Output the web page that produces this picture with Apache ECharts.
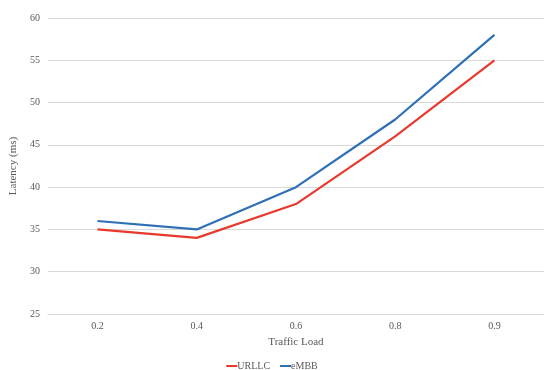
<!DOCTYPE html>
<html>
<head>
<meta charset="utf-8">
<script src="https://cdn.jsdelivr.net/npm/echarts@6/dist/echarts.min.js"></script>
<style>html,body{margin:0;padding:0;background:#fff;}#c{width:544px;height:370px;}</style>
</head>
<body>
<div id="c"></div>
<script>
const categories = ['0.2', '0.4', '0.6', '0.8', '0.9'];
const urllc = [35, 34, 38, 46, 55];
const embb = [36, 35, 40, 48, 58];
const yMin = 25, yMax = 60, yStep = 5;

const font = 'Liberation Serif';
const chart = echarts.init(document.getElementById('c'), null, {renderer: 'canvas'});
chart.setOption({
  animation: false,
  backgroundColor: '#ffffff',
  textStyle: {fontFamily: font},
  grid: {left: 43, top: 18, width: 503, height: 296, containLabel: false},
  legend: {
    top: 356,
    left: 'center',
    itemWidth: 11,
    itemHeight: 2,
    itemGap: 10,
    icon: 'rect',
    textStyle: {fontFamily: font, fontSize: 10, color: '#595959', padding: [0, 0, 0, -5]},
    data: ['URLLC', 'eMBB']
  },
  xAxis: {
    type: 'category',
    data: categories,
    boundaryGap: true,
    name: 'Traffic Load',
    nameLocation: 'middle',
    nameGap: 23,
    nameTextStyle: {fontFamily: font, fontSize: 11, color: '#595959'},
    axisLine: {show: true, lineStyle: {color: '#d9d9d9'}},
    axisTick: {show: false},
    axisLabel: {fontFamily: font, fontSize: 10, color: '#595959', margin: 7}
  },
  yAxis: {
    type: 'value',
    min: yMin,
    max: yMax,
    interval: yStep,
    name: 'Latency (ms)',
    nameLocation: 'middle',
    nameGap: 17,
    nameTextStyle: {fontFamily: font, fontSize: 11, color: '#595959'},
    axisLine: {show: false},
    axisTick: {show: false},
    axisLabel: {fontFamily: font, fontSize: 10, color: '#595959', margin: 8},
    splitLine: {lineStyle: {color: '#d9d9d9', width: 1}}
  },
  series: [
    {name: 'URLLC', type: 'line', data: urllc, symbol: 'none', color: '#e8392c', lineStyle: {width: 2.2, color: '#e8392c'}},
    {name: 'eMBB', type: 'line', data: embb, symbol: 'none', color: '#2e6fb5', lineStyle: {width: 2.2, color: '#2e6fb5'}}
  ]
});
</script>
</body>
</html>
